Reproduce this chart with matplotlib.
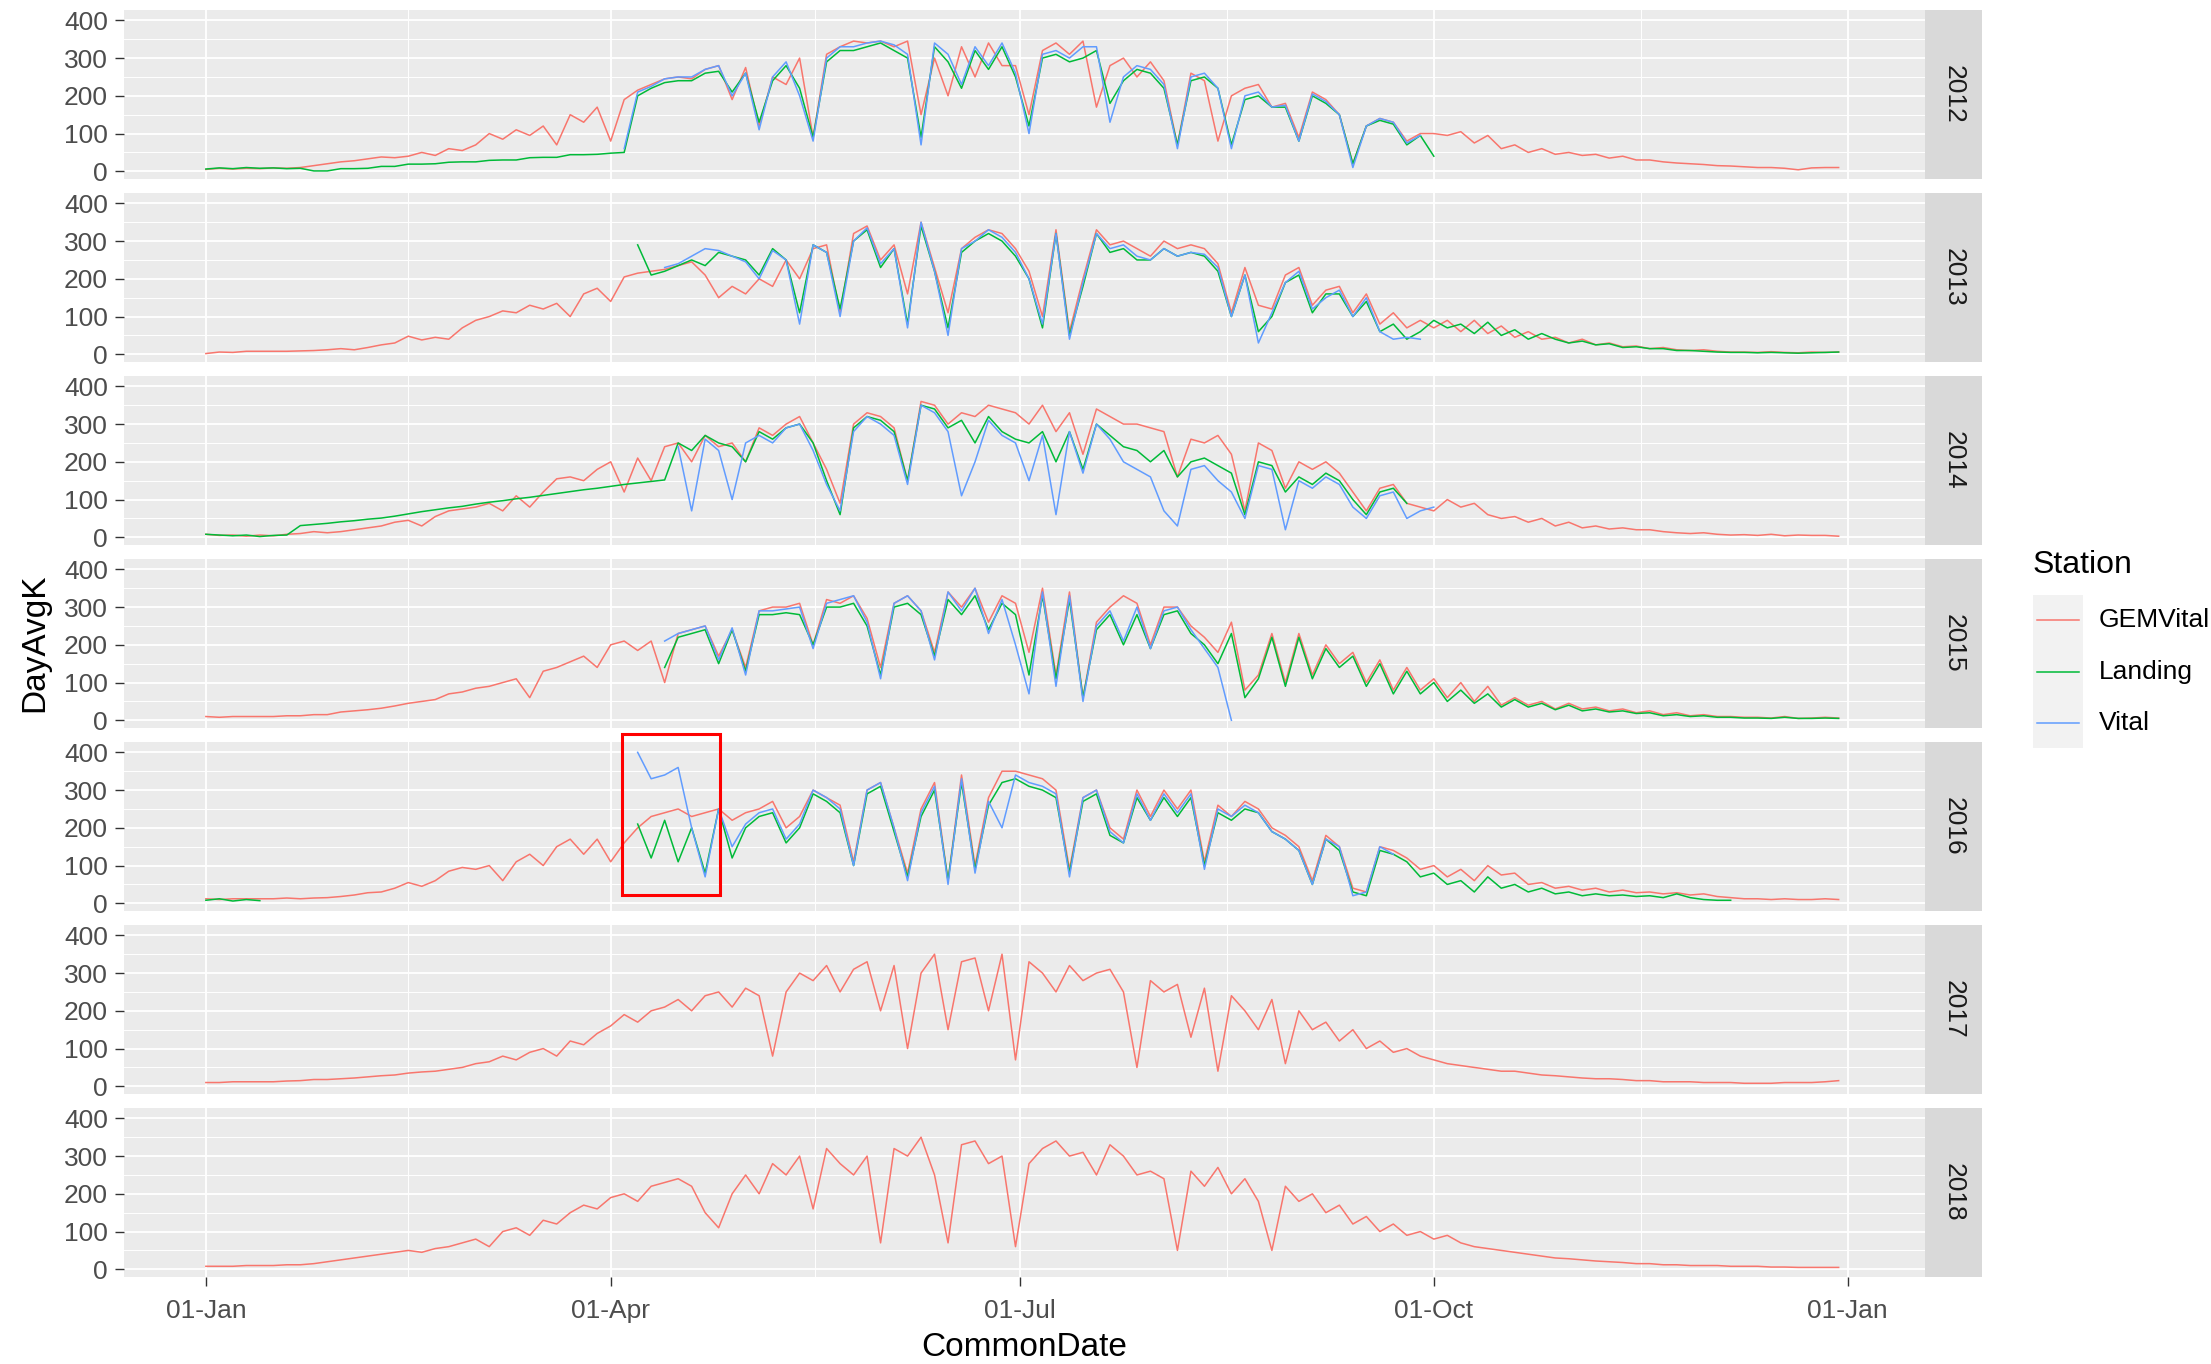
import matplotlib.pyplot as plt
import matplotlib.patches as patches
from matplotlib.lines import Line2D
import numpy as np

plt.rcParams['font.family'] = ['Liberation Sans', 'DejaVu Sans']

# values every 3 days (day 0 = 01-Jan)
STEP = 3

years = [2012, 2013, 2014, 2015, 2016, 2017, 2018]
stations = ['GEMVital', 'Landing', 'Vital']
colors = {'GEMVital': '#F8766D', 'Landing': '#00BA38', 'Vital': '#619CFF'}

tick_days = [0, 90, 181, 273, 365]
tick_labels = ['01-Jan', '01-Apr', '01-Jul', '01-Oct', '01-Jan']
y_ticks = [0, 100, 200, 300, 400]

# ---- 2012 ----
gem_2012 = [5, 8, 6, 8, 7, 9, 8, 10, 15, 20,
            25, 28, 33, 38, 36, 40, 50, 42, 60, 55,
            70, 100, 85, 110, 95, 120, 70, 150, 130, 170,
            80, 190, 215, 230, 245, 250, 245, 270, 280, 190,
            275, 120, 250, 230, 300, 90, 310, 330, 345, 340,
            345, 330, 345, 150, 300, 200, 330, 250, 340, 280,
            280, 150, 320, 340, 310, 345, 170, 280, 300, 250,
            290, 240, 70, 260, 240, 80, 200, 220, 230, 170,
            180, 90, 210, 190, 150, 20, 120, 140, 130, 80,
            100, 100, 95, 105, 75, 95, 60, 70, 50, 60,
            45, 50, 42, 45, 35, 40, 30, 30, 25, 22,
            20, 18, 15, 14, 12, 10, 10, 8, 4, 9,
            10, 10]
landing_2012_start = 0
landing_2012 = [6, 9, 7, 10, 8, 9, 7, 8, 1, 1,
                7, 7, 8, 13, 13, 19, 19, 20, 24, 25,
                25, 29, 30, 30, 36, 37, 37, 44, 44, 45,
                48, 50, 200, 220, 235, 240, 240, 260, 265, 210,
                260, 130, 240, 280, 220, 90, 290, 320, 320, 330,
                340, 320, 300, 90, 330, 290, 220, 320, 270, 330,
                250, 120, 300, 310, 290, 300, 320, 180, 240, 270,
                260, 220, 70, 240, 250, 220, 70, 190, 200, 170,
                170, 80, 200, 180, 150, 20, 120, 135, 125, 70,
                95, 40]
vital_2012_start = 93
vital_2012 = [60, 210, 225, 245, 250, 250, 270, 280, 200,
              260, 110, 250, 290, 200, 80, 300, 330, 330, 340,
              345, 335, 310, 70, 340, 310, 230, 330, 280, 340,
              260, 100, 310, 320, 300, 330, 330, 130, 250, 280,
              270, 230, 60, 250, 260, 220, 60, 200, 210, 170,
              175, 80, 205, 185, 150, 10, 120, 140, 130, 75,
              95]

# ---- 2013 ----
gem_2013 = [2, 6, 5, 8, 8, 8, 8, 9, 10, 12,
            15, 12, 18, 25, 30, 48, 38, 45, 40, 70,
            90, 100, 115, 110, 130, 120, 135, 100, 160, 175,
            140, 205, 215, 220, 225, 235, 245, 210, 150, 180,
            160, 200, 180, 250, 200, 280, 290, 110, 320, 340,
            250, 290, 160, 350, 230, 110, 280, 310, 330, 320,
            280, 220, 100, 330, 60, 200, 330, 290, 300, 280,
            260, 300, 280, 290, 280, 240, 110, 230, 130, 120,
            210, 230, 130, 170, 180, 110, 160, 80, 110, 70,
            90, 70, 90, 60, 90, 55, 75, 45, 60, 40,
            45, 30, 40, 25, 30, 20, 22, 15, 18, 12,
            10, 12, 8, 6, 6, 5, 7, 5, 4, 6,
            5, 6]
landing_2013_start = 96
landing_2013 = [290, 210, 220, 235, 250, 235, 270, 260,
                250, 210, 280, 250, 110, 290, 270, 120, 300, 330,
                230, 280, 80, 340, 220, 70, 270, 300, 320, 300,
                260, 200, 70, 320, 50, 180, 320, 270, 280, 250,
                250, 280, 260, 270, 260, 220, 100, 210, 60, 100,
                190, 210, 110, 160, 160, 100, 140, 60, 80, 40,
                60, 90, 70, 80, 55, 85, 50, 65, 40, 55,
                40, 30, 35, 25, 28, 18, 20, 15, 15, 10,
                10, 8, 6, 5, 5, 4, 5, 4, 3, 4,
                5, 6]
vital_2013_start = 102
vital_2013 = [230, 240, 260, 280, 275, 260,
              245, 200, 275, 250, 80, 290, 270, 100, 300, 335,
              240, 280, 70, 350, 220, 50, 280, 300, 330, 310,
              270, 200, 80, 320, 40, 190, 320, 280, 290, 260,
              250, 280, 260, 270, 265, 230, 100, 210, 30, 110,
              190, 220, 120, 150, 170, 100, 150, 60, 40, 45,
              40]

# ---- 2014 ----
gem_2014 = [8, 5, 6, 3, 6, 4, 8, 10, 15, 12,
            15, 20, 25, 30, 40, 45, 30, 55, 70, 75,
            80, 90, 70, 110, 80, 120, 155, 160, 150, 180,
            200, 120, 210, 150, 240, 250, 200, 270, 240, 250,
            200, 290, 270, 300, 320, 250, 180, 90, 300, 330,
            320, 290, 150, 360, 350, 300, 330, 320, 350, 340,
            330, 300, 350, 280, 330, 220, 340, 320, 300, 300,
            290, 280, 160, 260, 250, 270, 220, 70, 250, 230,
            130, 200, 180, 200, 170, 120, 70, 130, 140, 90,
            80, 70, 100, 80, 90, 60, 50, 55, 40, 50,
            30, 40, 25, 30, 22, 25, 20, 20, 15, 12,
            10, 12, 8, 6, 7, 5, 8, 4, 6, 5,
            5, 3]
landing_2014_start = 0
landing_2014 = [8, 6, 4, 6, 2, 5, 6, 31, 34, 37,
                41, 44, 48, 51, 56, 62, 68, 73, 78, 82,
                88, 93, 97, 102, 106, 111, 116, 121, 126, 130,
                135, 140, 144, 148, 152, 250, 230, 270, 250, 240,
                200, 280, 260, 290, 300, 250, 150, 60, 290, 320,
                310, 280, 150, 350, 340, 290, 310, 250, 320, 280,
                260, 250, 280, 200, 280, 180, 300, 270, 240, 230,
                200, 230, 160, 200, 210, 190, 170, 60, 200, 190,
                120, 160, 140, 170, 150, 100, 60, 120, 130, 90]
vital_2014_start = 105
vital_2014 = [240, 70, 260, 230, 100,
              250, 270, 250, 290, 300, 230, 140, 70, 280, 320,
              300, 270, 140, 350, 330, 280, 110, 200, 310, 270,
              250, 150, 270, 60, 280, 170, 300, 260, 200, 180,
              160, 70, 30, 180, 190, 150, 120, 50, 190, 180,
              20, 150, 130, 160, 140, 80, 50, 110, 120, 50,
              70, 80]

# ---- 2015 ----
gem_2015 = [10, 8, 10, 10, 10, 10, 12, 12, 15, 15,
            22, 25, 28, 32, 38, 45, 50, 55, 70, 75,
            85, 90, 100, 110, 60, 130, 140, 155, 170, 140,
            200, 210, 185, 210, 100, 230, 240, 250, 170, 240,
            140, 290, 300, 300, 310, 200, 320, 310, 330, 270,
            140, 310, 330, 290, 180, 340, 300, 350, 260, 330,
            310, 180, 350, 120, 340, 60, 260, 300, 330, 310,
            200, 300, 300, 250, 220, 180, 260, 80, 120, 230,
            100, 230, 120, 200, 150, 180, 100, 160, 80, 140,
            80, 110, 60, 100, 50, 90, 40, 60, 40, 50,
            30, 45, 30, 35, 25, 30, 20, 25, 15, 20,
            12, 15, 10, 10, 8, 8, 6, 10, 5, 6,
            8, 6]
landing_2015_start = 102
landing_2015 = [140, 220, 230, 240, 150, 240,
                130, 280, 280, 285, 280, 200, 300, 300, 310, 250,
                120, 300, 310, 280, 170, 320, 280, 330, 240, 310,
                280, 120, 330, 110, 320, 60, 240, 280, 200, 280,
                190, 280, 290, 230, 200, 150, 230, 60, 110, 220,
                90, 220, 110, 190, 140, 170, 90, 150, 70, 130,
                70, 100, 50, 80, 45, 70, 35, 55, 35, 45,
                28, 40, 25, 30, 22, 25, 18, 20, 12, 15,
                10, 12, 8, 8, 6, 6, 5, 8, 5, 5,
                6, 5]
vital_2015_start = 102
vital_2015 = [210, 230, 240, 250, 160, 245,
              120, 290, 290, 295, 300, 190, 310, 320, 330, 260,
              110, 310, 330, 290, 160, 340, 290, 350, 230, 320,
              200, 70, 340, 90, 330, 50, 250, 290, 210, 300,
              190, 290, 300, 240, 190, 140, 0]

# ---- 2016 ----
gem_2016 = [12, 10, 12, 12, 12, 12, 14, 12, 14, 15,
            18, 22, 28, 30, 40, 55, 45, 60, 85, 95,
            90, 100, 60, 110, 130, 100, 150, 170, 130, 170,
            110, 160, 200, 230, 240, 250, 230, 240, 250, 220,
            240, 250, 270, 200, 230, 300, 280, 260, 110, 300,
            320, 200, 80, 250, 320, 60, 340, 100, 280, 350,
            350, 340, 330, 300, 90, 280, 300, 200, 170, 300,
            230, 300, 250, 300, 110, 260, 230, 270, 250, 200,
            180, 150, 60, 180, 150, 40, 30, 150, 140, 120,
            90, 100, 70, 90, 60, 100, 75, 80, 50, 55,
            40, 45, 35, 40, 30, 35, 28, 30, 25, 28,
            22, 25, 18, 15, 12, 12, 10, 12, 10, 10,
            12, 10]
landing_2016_jan_start = 0
landing_2016_jan = [8, 12, 6, 10, 7]
landing_2016_start = 96
landing_2016 = [210, 120, 220, 110, 200, 80, 250, 120,
                200, 230, 240, 160, 200, 290, 270, 240, 100, 290,
                310, 190, 70, 230, 300, 60, 320, 90, 260, 320,
                330, 310, 300, 280, 80, 270, 290, 180, 160, 280,
                220, 280, 230, 280, 100, 240, 220, 250, 240, 190,
                170, 140, 50, 170, 140, 30, 20, 140, 130, 110,
                70, 80, 50, 60, 30, 70, 40, 50, 30, 40,
                25, 30, 20, 25, 20, 22, 18, 20, 15, 25,
                15, 10, 8, 8]
vital_2016_start = 96
vital_2016 = [400, 330, 340, 360, 200, 70, 250, 150,
              210, 240, 250, 170, 210, 300, 280, 250, 100, 300,
              320, 200, 60, 240, 310, 50, 330, 80, 270, 200,
              340, 320, 310, 290, 70, 280, 300, 190, 160, 290,
              220, 290, 240, 290, 90, 250, 230, 260, 240, 190,
              170, 140, 50, 170, 150, 20, 30, 150, 130]

# ---- 2017 ----
gem_2017 = [10, 10, 12, 12, 12, 12, 14, 15, 18, 18,
            20, 22, 25, 28, 30, 35, 38, 40, 45, 50,
            60, 65, 80, 70, 90, 100, 80, 120, 110, 140,
            160, 190, 170, 200, 210, 230, 200, 240, 250, 210,
            260, 240, 80, 250, 300, 280, 320, 250, 310, 330,
            200, 320, 100, 300, 350, 150, 330, 340, 200, 350,
            70, 330, 300, 250, 320, 280, 300, 310, 250, 50,
            280, 250, 270, 130, 260, 40, 240, 200, 150, 230,
            60, 200, 150, 170, 120, 150, 100, 120, 90, 100,
            80, 70, 60, 55, 50, 45, 40, 40, 35, 30,
            28, 25, 22, 20, 20, 18, 15, 15, 12, 12,
            12, 10, 10, 10, 8, 8, 8, 10, 10, 10,
            12, 15]

# ---- 2018 ----
gem_2018 = [8, 8, 8, 10, 10, 10, 12, 12, 15, 20,
            25, 30, 35, 40, 45, 50, 45, 55, 60, 70,
            80, 60, 100, 110, 90, 130, 120, 150, 170, 160,
            190, 200, 180, 220, 230, 240, 220, 150, 110, 200,
            250, 200, 280, 250, 300, 160, 320, 280, 250, 300,
            70, 320, 300, 350, 250, 70, 330, 340, 280, 300,
            60, 280, 320, 340, 300, 310, 250, 330, 300, 250,
            260, 240, 50, 260, 220, 270, 200, 240, 180, 50,
            220, 180, 200, 150, 170, 120, 140, 100, 120, 90,
            100, 80, 90, 70, 60, 55, 50, 45, 40, 35,
            30, 28, 25, 22, 20, 18, 15, 15, 12, 12,
            10, 10, 10, 8, 8, 8, 6, 6, 5, 5,
            5, 5]

series = {
    2012: [('GEMVital', 0, gem_2012), ('Landing', landing_2012_start, landing_2012),
           ('Vital', vital_2012_start, vital_2012)],
    2013: [('GEMVital', 0, gem_2013), ('Landing', landing_2013_start, landing_2013),
           ('Vital', vital_2013_start, vital_2013)],
    2014: [('GEMVital', 0, gem_2014), ('Landing', landing_2014_start, landing_2014),
           ('Vital', vital_2014_start, vital_2014)],
    2015: [('GEMVital', 0, gem_2015), ('Landing', landing_2015_start, landing_2015),
           ('Vital', vital_2015_start, vital_2015)],
    2016: [('GEMVital', 0, gem_2016), ('Landing', landing_2016_jan_start, landing_2016_jan),
           ('Landing', landing_2016_start, landing_2016), ('Vital', vital_2016_start, vital_2016)],
    2017: [('GEMVital', 0, gem_2017)],
    2018: [('GEMVital', 0, gem_2018)],
}

W, H = 2211, 1364
fig = plt.figure(figsize=(W / 100, H / 100), dpi=100)

left, right = 124, 1925
strip_w = 57
panel_h = 169
for i, yr in enumerate(years):
    top = 10 + 183 * i
    rect = [left / W, 1 - (top + panel_h) / H, (right - left) / W, panel_h / H]
    ax = fig.add_axes(rect)
    ax.set_facecolor('#EBEBEB')
    for sp in ax.spines.values():
        sp.set_visible(False)
    ax.set_xlim(-18.2, 382.2)
    ax.set_ylim(-20.4, 427.4)
    ax.set_yticks(y_ticks)
    ax.set_yticks([50, 150, 250, 350], minor=True)
    ax.set_xticks(tick_days)
    ax.set_xticks([45, 135.5, 227, 319], minor=True)
    ax.grid(which='major', color='white', lw=1.3)
    ax.grid(which='minor', color='white', lw=0.7)
    ax.set_axisbelow(True)
    ax.tick_params(which='minor', length=0)
    ax.tick_params(which='major', length=6.5, width=1.0, color='#333333',
                   labelcolor='#4D4D4D', labelsize=19, pad=5)
    if i < len(years) - 1:
        ax.tick_params(axis='x', length=0, labelbottom=False)
    else:
        ax.set_xticklabels(tick_labels)
        ax.tick_params(axis='x', pad=9)

    for name, start, vals in series[yr]:
        x = start + STEP * np.arange(len(vals))
        ax.plot(x, vals, color=colors[name], lw=1.1)

    # facet strip on the right
    sax = fig.add_axes([right / W, rect[1], strip_w / W, panel_h / H])
    sax.set_facecolor('#D9D9D9')
    sax.set_xticks([])
    sax.set_yticks([])
    for sp in sax.spines.values():
        sp.set_visible(False)
    sax.text(0.5, 0.5, str(yr), rotation=270, ha='center', va='center',
             fontsize=19, color='#1A1A1A', transform=sax.transAxes)

# red box drawn on the 2016 panel
fig.add_artist(patches.Rectangle((622 / W, 1 - 895 / H), 98 / W, 161 / H,
                                 transform=fig.transFigure, fill=False,
                                 ec='#FF0000', lw=2.2))

# axis titles
fig.text((left + right) / 2 / W, 1 - 1348 / H, 'CommonDate', ha='center', va='center',
         fontsize=24, color='black')
fig.text(35 / W, 1 - 643 / H, 'DayAvgK', rotation=90, ha='center', va='center',
         fontsize=24, color='black')

# legend
fig.text(2033 / W, 1 - 565 / H, 'Station', ha='left', va='center', fontsize=23)
for j, name in enumerate(stations):
    ktop = 595 + 51 * j
    fig.add_artist(patches.Rectangle((2033 / W, 1 - (ktop + 51) / H), 50 / W, 51 / H,
                                     transform=fig.transFigure, fc='#F2F2F2', ec='none'))
    yc = 1 - (ktop + 25.5) / H
    fig.add_artist(Line2D([2037 / W, 2079 / W], [yc, yc], transform=fig.transFigure,
                          color=colors[name], lw=1.1))
    fig.text(2099 / W, yc, name, ha='left', va='center', fontsize=19, color='black')

fig.savefig('out.png', dpi=100)
